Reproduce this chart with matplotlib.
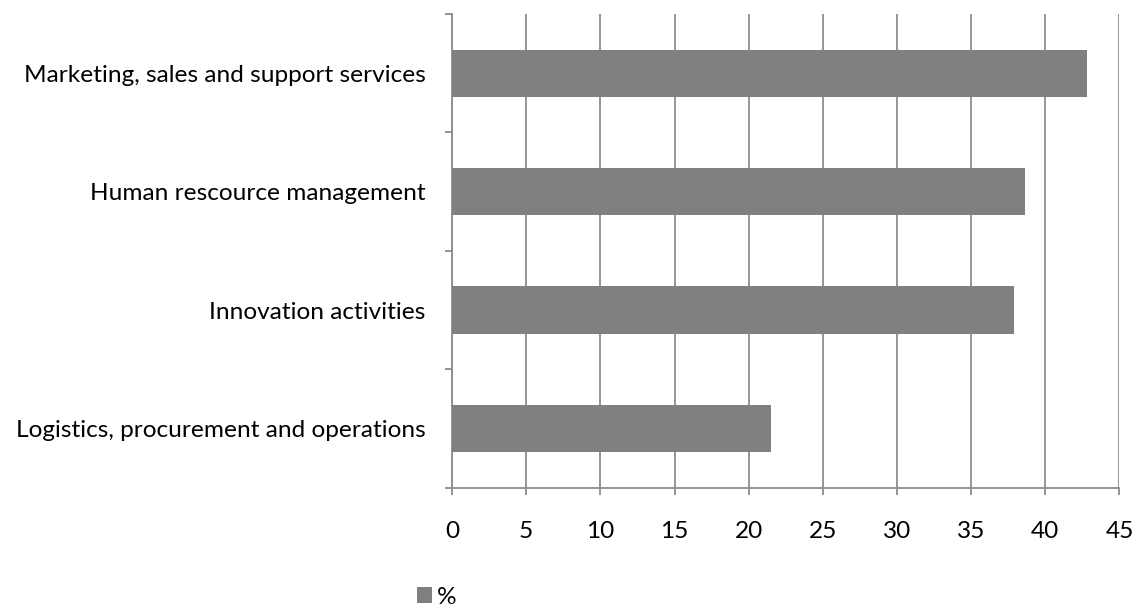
import numpy as np
import matplotlib.pyplot as plt
from matplotlib.ticker import FixedLocator, NullFormatter

plt.rcParams.update({'font.family': ['Lato', 'DejaVu Sans'], 'font.size': 17.6})

# --- data (bottom to top, as drawn) ---
categories = ['Logistics, procurement and operations',
              'Innovation activities',
              'Human rescource management',
              'Marketing, sales and support services']
share = [21.5, 37.9, 38.6, 42.8]
series_name = '%'

GRID = '#8c8c8c'
BAR = '#808080'

fig = plt.figure(figsize=(11.4, 6.09), dpi=100)
ax = fig.add_axes([0.3965, 0.199, 0.5855, 0.778])

y = np.arange(len(categories))
ax.barh(y, share, height=0.4, color=BAR, label=series_name, zorder=3)

ax.set_xlim(0, 45)
ax.set_ylim(-0.5, len(categories) - 0.5)
ax.set_xticks(np.arange(0, 46, 5))
ax.grid(axis='x', color=GRID, linewidth=1.3, zorder=0)
ax.set_axisbelow(True)

# category ticks sit between bars, labels sit on the bar centres
ax.yaxis.set_major_locator(FixedLocator(np.arange(-0.5, len(categories), 1)))
ax.yaxis.set_major_formatter(NullFormatter())
ax.yaxis.set_minor_locator(FixedLocator(y))
ax.set_yticklabels(categories, minor=True)
ax.tick_params(axis='y', which='major', length=5, width=1.3, color=GRID)
ax.tick_params(axis='y', which='minor', length=0, pad=19)
ax.tick_params(axis='x', length=5, width=1.3, color=GRID, pad=19)

for side in ['top', 'right']:
    ax.spines[side].set_visible(False)
for side in ['left', 'bottom']:
    ax.spines[side].set_color(GRID)
    ax.spines[side].set_linewidth(1.3)

fig.legend(loc='center', bbox_to_anchor=(437 / 1140, 1 - 597 / 609),
           frameon=False, handlelength=0.6, handleheight=0.6,
           handletextpad=0.2, fontsize=17.6)

fig.savefig('out.png', dpi=100)
